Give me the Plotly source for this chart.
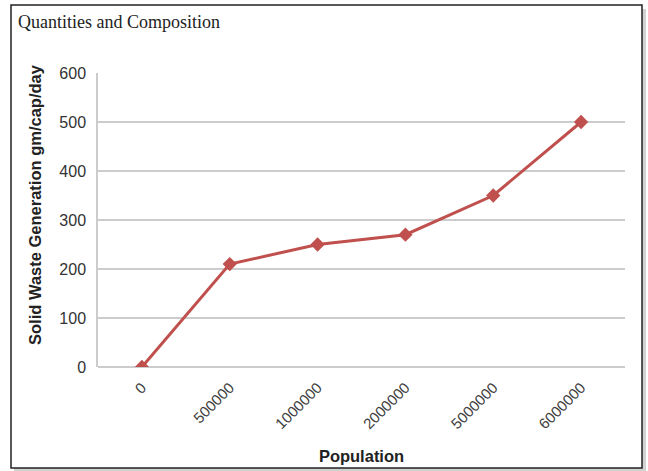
import plotly.graph_objects as go

# Population bands and per-capita solid waste generation
population = ["0", "500000", "1000000", "2000000", "5000000", "6000000"]
waste_gm_cap_day = [0, 210, 250, 270, 350, 500]
y_ticks = [0, 100, 200, 300, 400, 500, 600]

W, H = 648, 471
L, R, T, B = 98, 23, 73, 104
pw, ph = W - L - R, H - T - B


def px(x):
    return (x - L) / pw


def py(y):
    return (H - B - y) / ph


fig = go.Figure()
fig.add_trace(go.Scatter(
    x=population, y=waste_gm_cap_day, mode="lines+markers",
    line=dict(color="#C0504D", width=3),
    marker=dict(symbol="diamond", size=11, color="#C0504D"),
    showlegend=False,
))

shapes = [
    # soft drop shadow of the frame
    dict(type="rect", xref="paper", yref="paper",
         x0=px(14), x1=px(646), y0=py(471), y1=py(9),
         line=dict(width=0), fillcolor="rgba(0,0,0,0.18)", layer="below"),
    dict(type="rect", xref="paper", yref="paper",
         x0=px(11), x1=px(642), y0=py(468), y1=py(5),
         line=dict(width=0), fillcolor="white", layer="below"),
    dict(type="rect", xref="paper", yref="paper",
         x0=px(11), x1=px(642), y0=py(468), y1=py(5),
         line=dict(color="#222222", width=1.5), fillcolor="rgba(0,0,0,0)"),
]

annotations = [
    dict(text="Quantities and Composition", xref="paper", yref="paper",
         x=px(16), y=py(22), xanchor="left", yanchor="middle", showarrow=False,
         font=dict(family="Liberation Serif, Times New Roman, serif", size=18, color="#222222")),
    dict(text="<b>Solid Waste Generation gm/cap/day</b>", xref="paper", yref="paper",
         x=px(35), y=py(205), xanchor="center", yanchor="middle", showarrow=False,
         textangle=-90, font=dict(size=16.5, color="#222222")),
]

fig.update_layout(
    width=W, height=H,
    margin=dict(l=L, r=R, t=T, b=B),
    paper_bgcolor="white", plot_bgcolor="white",
    font=dict(family="Liberation Sans, Arial, sans-serif", color="#333333"),
    shapes=shapes,
    annotations=annotations,
    xaxis=dict(
        type="category", range=[-0.5, 5.5], tickangle=-45,
        showgrid=False, showline=False, ticks="", ticklabelstandoff=8,
        tickfont=dict(size=15, color="#404040"),
        title=dict(text="<b>Population</b>", font=dict(size=16.5, color="#222222"), standoff=19),
        automargin=False,
    ),
    yaxis=dict(
        range=[0, 600], tickvals=y_ticks, showgrid=True, gridcolor="#CCCCCC", gridwidth=1.5,
        showline=True, linecolor="#CCCCCC", linewidth=1.5, zeroline=True,
        zerolinecolor="#CCCCCC", zerolinewidth=1.5, ticks="", ticklabelstandoff=7,
        tickfont=dict(size=16, color="#333333"),
        automargin=False,
    ),
)

fig.write_html("out.html")
